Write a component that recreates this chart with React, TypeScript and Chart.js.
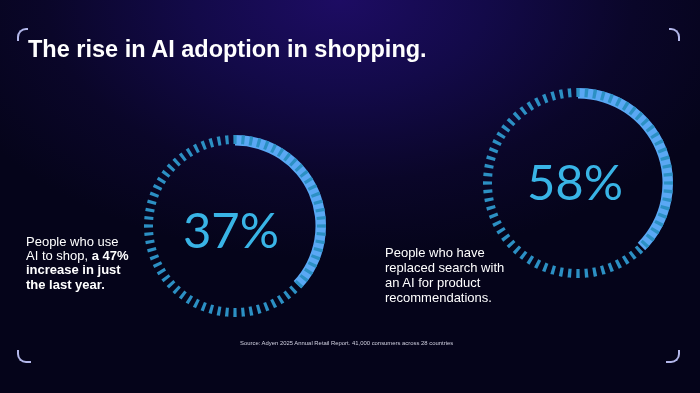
import React, { useEffect, useRef } from 'react';
import { Chart, registerables } from 'chart.js';

Chart.register(...registerables);

// ---- data ----
const TITLE = 'The rise in AI adoption in shopping.';
const gaugeLabels = ['37%', '58%'];
const gaugeFill = [37, 37.5]; // share of the ring drawn as filled
const SOURCE = 'Source: Adyen 2025 Annual Retail Report. 41,000 consumers across 28 countries';
const TICK_COUNT = 68;

// ---- style ----
const FILL_COLOR = '#5aa8f4';
const TICK_COLOR = '#2c90c4';
const NUM_COLOR = '#39b4e6';
const BRACKET = '#b3b7ea';
const TICK_SHARE = 0.4;

type RingProps = { cx: number; cy: number; r: number; fill: number };

function Ring({ cx, cy, r, fill }: RingProps) {
  const fillRef = useRef<HTMLCanvasElement>(null);
  const tickRef = useRef<HTMLCanvasElement>(null);
  useEffect(() => {
    const common = {
      responsive: false,
      animation: false as const,
      events: [] as any[],
      layout: { padding: 0 },
      plugins: { legend: { display: false }, tooltip: { enabled: false } },
    };
    const c1 = new Chart(fillRef.current as HTMLCanvasElement, {
      type: 'doughnut',
      data: {
        labels: ['filled', 'rest'],
        datasets: [
          {
            data: [fill, 100 - fill],
            backgroundColor: [FILL_COLOR, 'rgba(0,0,0,0)'],
            borderWidth: 0,
          },
        ],
      },
      options: { ...common, radius: r, cutout: r - 10.5 } as any,
    });
    const tickData: number[] = [];
    const tickColors: string[] = [];
    const tickLabels: string[] = [];
    for (let i = 0; i < TICK_COUNT; i++) {
      tickData.push(TICK_SHARE, 1 - TICK_SHARE);
      tickColors.push(TICK_COLOR, 'rgba(0,0,0,0)');
      tickLabels.push('t' + i, 'g' + i);
    }
    const c2 = new Chart(tickRef.current as HTMLCanvasElement, {
      type: 'doughnut',
      data: {
        labels: tickLabels,
        datasets: [{ data: tickData, backgroundColor: tickColors, borderWidth: 0 }],
      },
      options: {
        ...common,
        radius: r,
        cutout: r - 9,
        rotation: -(TICK_SHARE / 2) * (360 / TICK_COUNT),
      } as any,
    });
    return () => {
      c1.destroy();
      c2.destroy();
    };
  }, [cx, cy, r, fill]);
  const box: React.CSSProperties = {
    position: 'absolute',
    left: cx - r,
    top: cy - r,
    width: 2 * r,
    height: 2 * r,
  };
  return (
    <>
      <div style={box}>
        <canvas ref={fillRef} width={2 * r} height={2 * r} style={{ display: 'block' }} />
      </div>
      <div style={box}>
        <canvas ref={tickRef} width={2 * r} height={2 * r} style={{ display: 'block' }} />
      </div>
    </>
  );
}

function Bracket({ pos }: { pos: 'tl' | 'tr' | 'bl' | 'br' }) {
  const s: React.CSSProperties = { position: 'absolute', width: 11, height: 13, boxSizing: 'border-box' };
  const b = `2.5px solid ${BRACKET}`;
  if (pos === 'tl') Object.assign(s, { left: 17, top: 28, borderLeft: b, borderTop: b, borderTopLeftRadius: 9 });
  if (pos === 'tr') Object.assign(s, { left: 669, top: 28, borderRight: b, borderTop: b, borderTopRightRadius: 9 });
  if (pos === 'bl') Object.assign(s, { left: 17, top: 350, borderLeft: b, borderBottom: b, borderBottomLeftRadius: 9, width: 14 });
  if (pos === 'br') Object.assign(s, { left: 666, top: 350, borderRight: b, borderBottom: b, borderBottomRightRadius: 9, width: 14 });
  return <div style={s} />;
}

export default function App() {
  useEffect(() => {
    document.body.style.margin = '0';
    document.body.style.background = '#05041a';
  }, []);
  const numStyle: React.CSSProperties = {
    position: 'absolute',
    width: 160,
    textAlign: 'center',
    fontFamily: 'Lato, sans-serif',
    fontWeight: 400,
    fontSize: 49,
    lineHeight: '49px',
    color: NUM_COLOR,
    whiteSpace: 'nowrap',
  };
  const bodyText: React.CSSProperties = {
    position: 'absolute',
    fontFamily: '"Liberation Sans", Arial, sans-serif',
    fontSize: 13,
    color: '#ffffff',
    whiteSpace: 'nowrap',
  };
  return (
    <div
      style={{
        position: 'fixed',
        left: 0,
        top: 0,
        width: 700,
        height: 393,
        overflow: 'hidden',
        background:
          'radial-gradient(ellipse 420px 260px at 340px 0px, #1d0c63 0%, #130a49 35%, #0a0629 70%, #05041a 100%)',
      }}
    >
      <div
        style={{
          position: 'absolute',
          left: 28,
          top: 38,
          fontFamily: '"Liberation Sans", Arial, sans-serif',
          fontWeight: 700,
          fontSize: 23.5,
          lineHeight: '23.5px',
          color: '#ffffff',
          whiteSpace: 'nowrap',
        }}
      >
        {TITLE}
      </div>

      <Ring cx={235} cy={226} r={91} fill={gaugeFill[0]} />
      <Ring cx={578} cy={183} r={95} fill={gaugeFill[1]} />

      <div style={{ ...numStyle, left: 231 - 80, top: 204.5 }}>{gaugeLabels[0]}</div>
      <div style={{ ...numStyle, left: 575 - 80, top: 156.5 }}>{gaugeLabels[1]}</div>

      <div style={{ ...bodyText, left: 26, top: 235, lineHeight: '14.2px' }}>
        People who use
        <br />
        AI to shop, <b>a 47%</b>
        <br />
        <b>increase in just</b>
        <br />
        <b>the last year.</b>
      </div>

      <div style={{ ...bodyText, left: 385, top: 245.3, lineHeight: '15px' }}>
        People who have
        <br />
        replaced search with
        <br />
        an AI for product
        <br />
        recommendations.
      </div>

      <div
        style={{
          position: 'absolute',
          left: 240,
          top: 341,
          fontFamily: '"Liberation Sans", Arial, sans-serif',
          fontSize: 5.9,
          lineHeight: '5.9px',
          color: '#d0d0e0',
          whiteSpace: 'nowrap',
        }}
      >
        {SOURCE}
      </div>

      <Bracket pos="tl" />
      <Bracket pos="tr" />
      <Bracket pos="bl" />
      <Bracket pos="br" />
    </div>
  );
}
